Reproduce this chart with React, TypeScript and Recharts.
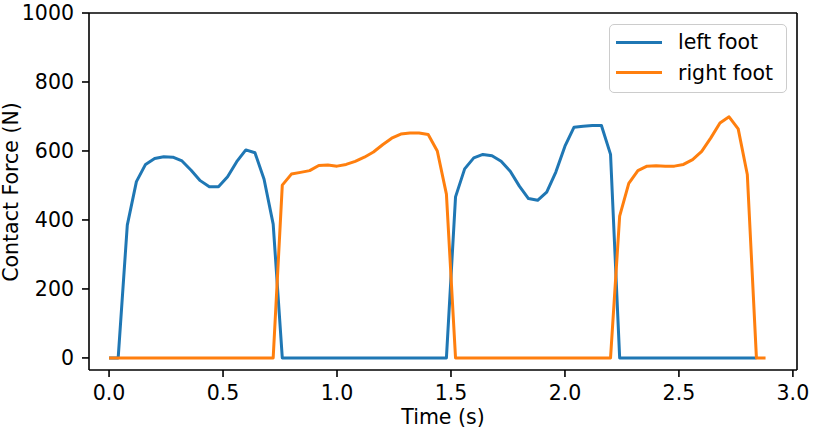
import { Line, LineChart, XAxis, YAxis, ReferenceLine } from "recharts";

const time = [
  0.0, 0.04, 0.08, 0.12, 0.16, 0.2, 0.24, 0.28, 0.32, 0.36, 0.4, 0.44, 0.48, 0.52, 0.56, 0.6, 0.64, 0.68, 0.72, 0.76,
  0.8, 0.84, 0.88, 0.92, 0.96, 1.0, 1.04, 1.08, 1.12, 1.16, 1.2, 1.24, 1.28, 1.32, 1.36, 1.4, 1.44, 1.48, 1.52, 1.56,
  1.6, 1.64, 1.68, 1.72, 1.76, 1.8, 1.84, 1.88, 1.92, 1.96, 2.0, 2.04, 2.08, 2.12, 2.16, 2.2, 2.24, 2.28, 2.32, 2.36,
  2.4, 2.44, 2.48, 2.52, 2.56, 2.6, 2.64, 2.68, 2.72, 2.76, 2.8, 2.84, 2.88,
];

// left foot runs to 2.84 s
const leftFoot = [
  0, 0, 385, 511, 561, 578, 583, 582, 571, 544, 514, 496, 496, 525, 569, 603, 595, 518, 388, 0,
  0, 0, 0, 0, 0, 0, 0, 0, 0, 0, 0, 0, 0, 0, 0, 0, 0, 0,
  467, 548, 580, 590, 586, 570, 541, 498, 462, 457, 481, 539, 614, 669, 672, 674, 674, 590, 0,
  0, 0, 0, 0, 0, 0, 0, 0, 0, 0, 0, 0, 0, 0, 0,
];

const rightFoot = [
  0, 0, 0, 0, 0, 0, 0, 0, 0, 0, 0, 0, 0, 0, 0, 0, 0, 0, 0,
  501, 533, 538, 543, 558, 559, 556, 561, 570, 582, 597, 618, 637, 649, 652, 652, 648, 600, 475,
  0, 0, 0, 0, 0, 0, 0, 0, 0, 0, 0, 0, 0, 0, 0, 0, 0, 0,
  411, 506, 543, 556, 557, 556, 556, 561, 575, 599, 638, 681, 699, 664, 532,
  0, 0,
];

const xTicks = [0, 0.5, 1, 1.5, 2, 2.5, 3];
const yTicks = [0, 200, 400, 600, 800, 1000];
const xDomain = [-0.088, 3.018];
const yDomain = [-35, 1000];

const series = [
  { key: "left", name: "left foot", color: "#1f77b4" },
  { key: "right", name: "right foot", color: "#ff7f0e" },
];

const data = time.map((t, i) => ({ t, left: leftFoot[i], right: rightFoot[i] }));

const font = "'DejaVu Sans', sans-serif";
const tickStyle = { fontSize: 20.5, fill: "#000", fontFamily: font };

function LegendBox() {
  return (
    <div
      style={{
        position: "absolute",
        left: 609,
        top: 24,
        width: 178,
        height: 69,
        border: "1.5px solid #cccccc",
        borderRadius: 5,
        background: "rgba(255,255,255,0.8)",
        boxSizing: "border-box",
        paddingTop: 2,
        fontFamily: font,
        fontSize: 20.5,
      }}
    >
      {series.map((s) => (
        <div key={s.key} style={{ display: "flex", alignItems: "center", height: 30.5 }}>
          <div style={{ width: 46, height: 3, background: s.color, marginLeft: 6, marginRight: 16 }} />
          <span>{s.name}</span>
        </div>
      ))}
    </div>
  );
}

export default function App() {
  return (
    <div style={{ position: "absolute", left: 0, top: 0, width: 814, height: 437 }}>
      <LineChart width={814} height={437} data={data} margin={{ top: 13, right: 17, left: 0, bottom: 0 }}>
        <XAxis
          dataKey="t"
          type="number"
          domain={xDomain}
          allowDataOverflow
          ticks={xTicks}
          tickFormatter={(v) => v.toFixed(1)}
          tick={tickStyle}
          tickSize={7}
          tickMargin={8}
          height={67}
          stroke="#000"
          strokeWidth={1.6}
          label={{
            content: () => (
              <text x={443} y={424} textAnchor="middle" fontSize={20.5} fontFamily={font} fill="#000">
                Time (s)
              </text>
            ),
          }}
        />
        <YAxis
          type="number"
          domain={yDomain}
          allowDataOverflow
          ticks={yTicks}
          tick={tickStyle}
          tickSize={7}
          tickMargin={8}
          width={89}
          stroke="#000"
          strokeWidth={1.6}
          label={{
            content: () => (
              <text
                x={17.5}
                y={192}
                textAnchor="middle"
                fontSize={20.5}
                fontFamily={font}
                fill="#000"
                transform="rotate(-90 17.5 192)"
              >
                Contact Force (N)
              </text>
            ),
          }}
        />
        <ReferenceLine y={yDomain[1]} stroke="#000" strokeWidth={1.6} />
        <ReferenceLine x={xDomain[1]} stroke="#000" strokeWidth={1.6} />
        {series.map((s) => (
          <Line
            key={s.key}
            dataKey={s.key}
            name={s.name}
            stroke={s.color}
            strokeWidth={3}
            dot={false}
            isAnimationActive={false}
            strokeLinejoin="round"
          />
        ))}
      </LineChart>
      <LegendBox />
    </div>
  );
}
